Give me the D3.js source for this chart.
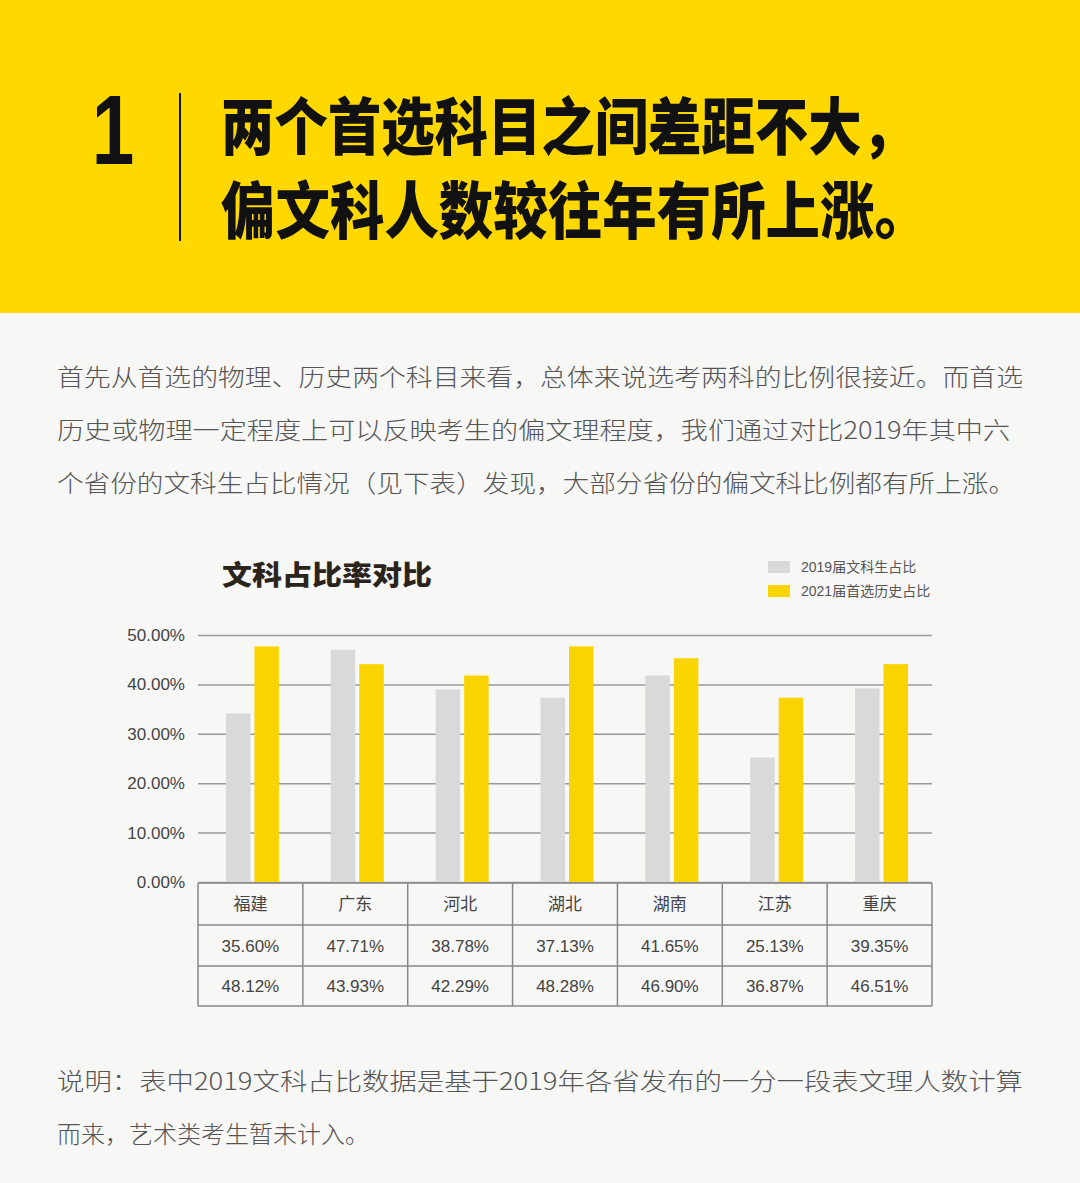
<!DOCTYPE html>
<html><head><meta charset="utf-8">
<script src="https://cdn.jsdelivr.net/npm/d3@7"></script>
<style>
html,body{margin:0;padding:0;background:#f7f7f5;}
svg{display:block;}
</style></head>
<body>
<script>
// ---- data ----
const categories = ['福建','广东','河北','湖北','湖南','江苏','重庆'];
const seriesNames = ['2019届文科生占比','2021届首选历史占比'];
// bar heights as drawn in the picture (%)
const share2019 = [34.1, 47.0, 39.0, 37.3, 41.8, 25.2, 39.2];
const share2021 = [47.7, 44.1, 41.8, 47.7, 45.3, 37.3, 44.1];
// table labels
const label2019 = ['35.60%','47.71%','38.78%','37.13%','41.65%','25.13%','39.35%'];
const label2021 = ['48.12%','43.93%','42.29%','48.28%','46.90%','36.87%','46.51%'];
const yTicks = [0,10,20,30,40,50];
const headTitle = ['两个首选科目之间差距不大，','偏文科人数较往年有所上涨。'];
const paraLines = [
 '首先从首选的物理、历史两个科目来看，总体来说选考两科的比例很接近。而首选',
 '历史或物理一定程度上可以反映考生的偏文理程度，我们通过对比2019年其中六',
 '个省份的文科生占比情况（见下表）发现，大部分省份的偏文科比例都有所上涨。'
];
const noteLines = [
 '说明：表中2019文科占比数据是基于2019年各省发布的一分一段表文理人数计算',
 '而来，艺术类考生暂未计入。'
];
const chartTitle = '文科占比率对比';

// ---- drawing ----
const W = 1080, H = 1183;
const YEL = '#ffd800', BAR_Y = '#f9d400', BAR_G = '#d9d9d9';
const CJK = '"Noto Sans CJK SC", sans-serif';
const MIX = '"Liberation Sans", "Noto Sans CJK SC", sans-serif';

const svg = d3.select('body').append('svg').attr('width', W).attr('height', H);
svg.append('rect').attr('width', W).attr('height', H).attr('fill', '#f7f7f5');

// header
svg.append('rect').attr('width', W).attr('height', 313).attr('fill', YEL);
svg.append('text').attr('transform', 'translate(113,164) scale(0.78,1)').attr('text-anchor', 'middle')
  .attr('font-family', '"Liberation Sans", sans-serif').attr('font-weight', 700)
  .attr('font-size', 98).attr('fill', '#111').text('1');
svg.append('line').attr('x1', 180).attr('x2', 180).attr('y1', 93).attr('y2', 241)
  .attr('stroke', '#111').attr('stroke-width', 2);
const headY = [150, 234], headW = [694, 708];
headTitle.forEach((t, i) => {
  svg.append('text').attr('x', 221).attr('y', headY[i])
    .attr('font-family', CJK).attr('font-weight', 900).attr('font-size', 62)
    .attr('fill', '#111').attr('textLength', headW[i]).attr('lengthAdjust', 'spacingAndGlyphs')
    .text(t);
});

// paragraph
const paraY = [386, 439, 492], paraW = [966, 953, 958];
paraLines.forEach((t, i) => {
  svg.append('text').attr('x', 57).attr('y', paraY[i])
    .attr('font-family', CJK).attr('font-weight', 300).attr('font-size', 24)
    .attr('fill', '#555').attr('textLength', paraW[i]).attr('lengthAdjust', 'spacingAndGlyphs')
    .text(t);
});

// chart
const left = 198, right = 932, y0 = 882, y50 = 635;
const x = d3.scaleBand().domain(categories).range([left, right]).paddingInner(0).paddingOuter(0);
const y = d3.scaleLinear().domain([0, 50]).range([y0, y50]);

svg.append('text').attr('x', 222).attr('y', 585)
  .attr('font-family', CJK).attr('font-weight', 900).attr('font-size', 27)
  .attr('fill', '#2a241c').attr('textLength', 210).attr('lengthAdjust', 'spacingAndGlyphs')
  .text(chartTitle);

// legend
const legColors = [BAR_G, BAR_Y];
seriesNames.forEach((n, i) => {
  const ly = 561 + i * 24;
  svg.append('rect').attr('x', 768).attr('y', ly).attr('width', 22).attr('height', 12).attr('fill', legColors[i]);
  svg.append('text').attr('x', 801).attr('y', ly + 11)
    .attr('font-family', MIX).attr('font-size', 14).attr('fill', '#555').text(n);
});

// grid + y axis
const yAxis = d3.axisLeft(y).tickValues(yTicks).tickSize(-(right - left)).tickPadding(13)
  .tickFormat(d => d.toFixed(2) + '%');
const ga = svg.append('g').attr('transform', `translate(${left},0)`).call(yAxis);
ga.select('.domain').remove();
ga.selectAll('.tick line').attr('stroke', '#9a9a9a').attr('stroke-width', 1.5);
ga.selectAll('.tick text').attr('font-family', MIX).attr('font-size', 17).attr('fill', '#444');

// bars
const bw = 24.5, gap = 4;
const g = svg.append('g');
categories.forEach((c, i) => {
  const cx = x(c) + x.bandwidth() / 2 + 2;
  g.append('rect').attr('x', cx - gap / 2 - bw).attr('y', y(share2019[i]))
    .attr('width', bw).attr('height', y0 - y(share2019[i])).attr('fill', BAR_G);
  g.append('rect').attr('x', cx + gap / 2).attr('y', y(share2021[i]))
    .attr('width', bw).attr('height', y0 - y(share2021[i])).attr('fill', BAR_Y);
});

// table
const rowsY = [883, 925, 966, 1006];
const tg = svg.append('g');
const rows = [categories, label2019, label2021];
rows.forEach((row, r) => {
  row.forEach((v, i) => {
    tg.append('text').attr('x', x(categories[i]) + x.bandwidth() / 2)
      .attr('y', (rowsY[r] + rowsY[r + 1]) / 2 + 6).attr('text-anchor', 'middle')
      .attr('font-family', MIX).attr('font-size', 17).attr('fill', '#444').text(v);
  });
});
rowsY.forEach(yy => {
  tg.append('line').attr('x1', left).attr('x2', right).attr('y1', yy).attr('y2', yy)
    .attr('stroke', '#888').attr('stroke-width', 1.5);
});
categories.concat(['__end']).forEach((c, i) => {
  const xx = i < categories.length ? x(c) : right;
  tg.append('line').attr('x1', xx).attr('x2', xx).attr('y1', rowsY[0]).attr('y2', rowsY[3])
    .attr('stroke', '#888').attr('stroke-width', 1.5);
});

// note
const noteY = [1090, 1143], noteW = [966, null];
noteLines.forEach((t, i) => {
  const tx = svg.append('text').attr('x', 57).attr('y', noteY[i])
    .attr('font-family', CJK).attr('font-weight', 300).attr('font-size', 24)
    .attr('fill', '#555').text(t);
  if (noteW[i]) tx.attr('textLength', noteW[i]).attr('lengthAdjust', 'spacingAndGlyphs');
});
</script>
</body></html>
